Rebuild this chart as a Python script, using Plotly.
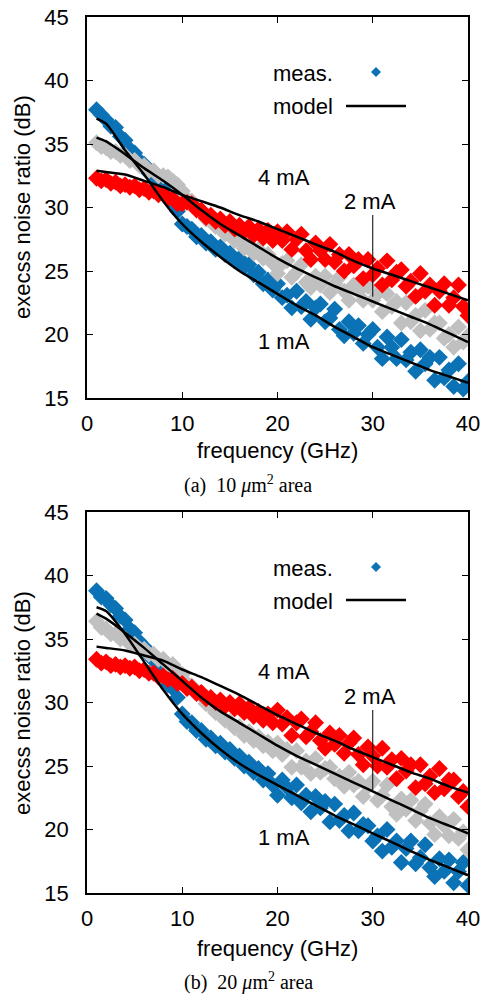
import plotly.graph_objects as go

# ---------------- data ----------------
freq = [1.0, 1.5, 2.0, 2.5, 3.0, 3.5, 4.0, 4.5, 5.0, 5.5,
        6.0, 6.5, 7.0, 7.5, 8.0, 8.5, 9.0, 9.5, 10.0, 10.5,
        11.0, 11.5, 12.0, 12.5, 13.0, 13.5, 14.0, 14.5, 15.0, 15.5,
        16.0, 16.5, 17.0, 17.5, 18.0, 18.5, 19.0, 19.5, 20.0, 20.5,
        21.0, 21.5, 22.0, 22.5, 23.0, 23.5, 24.0, 24.5, 25.0, 25.5,
        26.0, 26.5, 27.0, 27.5, 28.0, 28.5, 29.0, 29.5, 30.0, 30.5,
        31.0, 31.5, 32.0, 32.5, 33.0, 33.5, 34.0, 34.5, 35.0, 35.5,
        36.0, 36.5, 37.0, 37.5, 38.0, 38.5, 39.0, 39.5, 40.0]

# (a) 10 um^2 measured
meas_a_1mA = [37.7, 37.3, 36.9, 36.4, 36.3, 35.6, 35.3, 34.6, 34.3, 33.7,
              33.4, 32.7, 32.4, 31.8, 31.5, 30.8, 30.4, 29.7, 28.7, 28.5,
              28.3, 27.7, 27.8, 27.2, 27.3, 26.7, 26.9, 26.3, 26.4, 25.8,
              26.0, 25.3, 25.5, 24.7, 24.9, 24.0, 24.3, 23.5, 24.0, 22.9,
              23.1, 22.1, 23.4, 22.2, 22.6, 21.2, 22.1, 22.4, 21.0, 21.3,
              22.0, 20.4, 19.9, 21.0, 20.1, 20.7, 19.3, 20.0, 20.4, 19.0,
              18.1, 19.8, 19.0, 18.1, 19.6, 18.0, 18.6, 17.1, 18.8, 17.7,
              18.2, 16.4, 18.2, 16.6, 17.2, 15.9, 17.7, 15.7, 16.3]
meas_a_2mA = [35.1, 34.8, 34.7, 34.4, 34.4, 34.1, 34.1, 33.7, 33.7, 33.3,
              33.3, 32.9, 32.9, 32.5, 32.5, 32.4, 32.1, 31.8, 31.3, 30.7,
              30.5, 29.9, 29.7, 29.1, 29.0, 28.5, 28.4, 27.9, 27.9, 27.4,
              27.4, 26.8, 27.1, 26.4, 26.7, 26.0, 26.3, 25.6, 24.8, 25.6,
              25.8, 24.5, 24.9, 25.5, 24.1, 23.7, 24.6, 23.9, 24.6, 23.3,
              24.0, 24.5, 23.4, 22.7, 23.9, 23.4, 22.7, 23.8, 22.7, 23.2,
              21.8, 23.2, 22.2, 22.6, 20.9, 22.5, 21.0, 21.5, 20.3, 21.9,
              20.4, 20.9, 20.9, 19.7, 20.0, 19.0, 20.6, 19.4, 19.9]
meas_a_4mA = [32.3, 32.1, 32.2, 31.9, 32.0, 31.7, 31.8, 31.6, 31.7, 31.4,
              31.5, 31.2, 31.3, 31.0, 31.1, 30.7, 30.7, 30.3, 30.3, 30.4,
              30.3, 29.8, 29.8, 29.2, 29.4, 28.9, 29.1, 28.6, 28.9, 28.3,
              28.6, 28.1, 28.5, 27.8, 28.3, 27.6, 28.2, 27.4, 28.1, 27.4,
              28.1, 26.7, 27.5, 27.9, 26.6, 25.9, 27.2, 26.6, 25.9, 27.1,
              25.7, 26.3, 25.0, 26.3, 25.4, 25.9, 24.4, 25.9, 24.7, 25.2,
              23.9, 25.8, 24.3, 24.9, 25.1, 23.8, 24.2, 23.0, 24.8, 23.4,
              23.9, 22.3, 23.4, 24.0, 22.3, 22.9, 23.9, 22.2, 21.5]

# (b) 20 um^2 measured
meas_b_1mA = [38.8, 38.3, 38.2, 37.7, 37.4, 36.8, 36.5, 35.8, 35.5, 34.8,
              34.4, 33.7, 33.3, 32.5, 32.2, 31.4, 31.1, 30.4, 29.1, 28.5,
              28.4, 27.8, 27.8, 27.1, 27.2, 26.6, 26.8, 26.1, 26.3, 25.6,
              25.8, 25.0, 25.3, 24.5, 24.8, 23.9, 24.4, 23.5, 22.7, 23.9,
              23.3, 22.5, 23.5, 22.1, 22.7, 21.4, 22.6, 21.7, 22.2, 20.6,
              22.0, 20.7, 21.1, 19.9, 21.3, 19.9, 20.4, 20.3, 19.1, 19.5,
              18.3, 20.0, 18.6, 19.1, 17.4, 18.5, 19.1, 17.3, 17.8, 18.8,
              17.0, 16.3, 17.7, 16.7, 17.6, 15.8, 16.7, 17.4, 15.6]
meas_b_2mA = [36.4, 35.9, 35.8, 35.4, 35.4, 35.0, 35.0, 34.6, 34.6, 34.2,
              34.2, 33.8, 33.8, 33.4, 33.4, 33.0, 33.0, 32.5, 32.2, 31.5,
              31.3, 30.7, 30.5, 29.9, 29.7, 29.2, 29.0, 28.6, 28.5, 28.0,
              28.1, 27.4, 27.7, 27.0, 27.3, 26.6, 26.9, 26.2, 26.8, 25.9,
              26.3, 24.9, 26.2, 24.9, 25.4, 24.4, 25.6, 24.5, 24.8, 24.9,
              24.0, 24.2, 23.4, 24.5, 23.5, 23.8, 22.6, 23.4, 23.8, 22.3,
              22.7, 23.5, 21.8, 21.2, 22.4, 21.6, 22.3, 20.7, 21.5, 22.0,
              20.5, 19.6, 21.0, 20.3, 19.5, 20.8, 19.3, 19.8, 18.4]
meas_b_4mA = [33.4, 33.1, 33.2, 32.9, 33.0, 32.8, 32.9, 32.7, 32.8, 32.5,
              32.6, 32.3, 32.3, 32.0, 32.1, 31.8, 31.9, 31.5, 31.5, 31.1,
              31.2, 30.7, 30.8, 30.3, 30.4, 30.0, 30.2, 29.7, 30.0, 29.5,
              29.9, 29.2, 29.6, 28.9, 29.3, 28.6, 29.1, 28.4, 29.4, 28.3,
              28.8, 27.4, 28.4, 28.7, 27.3, 27.7, 28.4, 27.0, 26.4, 27.6,
              26.7, 27.4, 26.0, 26.8, 27.2, 25.9, 25.1, 26.5, 25.8, 25.0,
              26.4, 24.9, 25.5, 24.0, 25.6, 24.6, 25.1, 23.3, 25.1, 23.6,
              24.2, 22.9, 24.8, 23.2, 23.9, 23.9, 22.6, 23.0, 21.8]

# model curves
freq_model = [1, 2, 4, 6, 8, 10, 12, 14, 16, 18, 20, 22, 24, 26, 28, 30, 32, 34, 36, 38, 40]
model_a_1mA = [37.0, 36.6, 34.5, 32.6, 30.5, 28.7, 27.3, 26.1, 25.0, 24.1, 23.2,
               22.3, 21.5, 20.6, 19.8, 19.0, 18.4, 17.8, 17.2, 16.7, 16.2]
model_a_2mA = [35.5, 35.2, 34.2, 33.1, 32.1, 31.0, 29.8, 28.7, 27.8, 26.9, 26.0,
               25.2, 24.5, 23.8, 23.2, 22.6, 22.0, 21.4, 20.8, 20.1, 19.4]
model_a_4mA = [32.9, 32.8, 32.6, 32.1, 31.6, 31.0, 30.5, 30.0, 29.4, 28.9, 28.3,
               27.7, 27.1, 26.5, 25.8, 25.2, 24.7, 24.2, 23.7, 23.2, 22.7]
model_b_1mA = [37.5, 37.2, 35.4, 33.2, 31.0, 29.1, 27.6, 26.3, 25.2, 24.3, 23.5,
               22.7, 21.9, 21.1, 20.4, 19.7, 19.0, 18.3, 17.6, 17.0, 16.4]
model_b_2mA = [37.0, 36.6, 35.5, 34.3, 33.0, 31.7, 30.4, 29.3, 28.4, 27.5, 26.6,
               25.8, 25.1, 24.4, 23.7, 23.0, 22.3, 21.6, 20.9, 20.3, 19.7]
model_b_4mA = [34.4, 34.3, 34.1, 33.7, 33.3, 32.6, 32.0, 31.3, 30.6, 29.8, 29.0,
               28.3, 27.6, 27.0, 26.3, 25.7, 25.1, 24.5, 24.0, 23.4, 22.9]

x_ticks = [0, 10, 20, 30, 40]
y_ticks = [15, 20, 25, 30, 35, 40, 45]

# ---------------- style ----------------
C_1MA = "#0a72b5"
C_2MA = "#c0c0c0"
C_4MA = "#ff0000"
SANS = "Liberation Sans, Arial, Helvetica, sans-serif"
SERIF = "Liberation Serif, Times New Roman, serif"
FS = 22

W, H = 484, 997
ML, MR, MT, MB = 87, 16, 17, 104
PW = W - ML - MR
PH = H - MT - MB


def px_to_paper(px, py):
    return (px - ML) / PW, (H - MB - py) / PH


fig = go.Figure()

panels = [
    ("x", "y", [meas_a_1mA, meas_a_2mA, meas_a_4mA], [model_a_1mA, model_a_2mA, model_a_4mA]),
    ("x2", "y2", [meas_b_1mA, meas_b_2mA, meas_b_4mA], [model_b_1mA, model_b_2mA, model_b_4mA]),
]
for xa, ya, meas, models in panels:
    for vals, col in zip(meas, [C_1MA, C_2MA, C_4MA]):
        fig.add_trace(go.Scatter(
            x=freq, y=vals, mode="markers", xaxis=xa, yaxis=ya,
            marker=dict(symbol="diamond", size=13, color=col, line=dict(width=0)),
            showlegend=False, hoverinfo="skip"))
    for vals in models:
        fig.add_trace(go.Scatter(
            x=freq_model, y=vals, mode="lines", xaxis=xa, yaxis=ya,
            line=dict(color="black", width=2.5, shape="spline", smoothing=0.6),
            showlegend=False, hoverinfo="skip"))

axis_common = dict(
    showline=True, linecolor="black", linewidth=1.5, mirror="ticks",
    ticks="inside", ticklen=6, tickwidth=1, tickcolor="black",
    showgrid=False, zeroline=False, automargin=False,
    tickfont=dict(family=SANS, size=FS, color="black"),
)

top_dom = [(H - MB - 398) / PH, 1.0]
bot_dom = [0.0, (H - MB - 512) / PH]

fig.update_layout(
    width=W, height=H,
    margin=dict(l=ML, r=MR, t=MT, b=MB, autoexpand=False),
    paper_bgcolor="white", plot_bgcolor="white",
    font=dict(family=SANS, size=FS, color="black"),
    xaxis=dict(domain=[0, 1], anchor="y", range=[0, 40], tickvals=x_ticks,
               ticklabelstandoff=5, **axis_common),
    yaxis=dict(domain=top_dom, anchor="x", range=[15, 45], tickvals=y_ticks,
               ticklabelstandoff=12, **axis_common),
    xaxis2=dict(domain=[0, 1], anchor="y2", range=[0, 40], tickvals=x_ticks,
                ticklabelstandoff=5, **axis_common),
    yaxis2=dict(domain=bot_dom, anchor="x2", range=[15, 45], tickvals=y_ticks,
                ticklabelstandoff=12, **axis_common),
)

annotations = []
shapes = []
deco = [
    ("x", "y", 32.40, 30.46, 19.43, (22.98, 29.41), (73, 107), 207, 451, 484,
     "(a)  10 <i>μ</i>m<sup>2</sup> area"),
    ("x2", "y2", 32.43, 30.46, 19.40, (23.11, 29.41), (568, 601), 703, 948, 982,
     "(b)  20 <i>μ</i>m<sup>2</sup> area"),
]
for xr, yr, y4, y2, y1, (l0, l1), (leg1, leg2), ytit, xtit, cap, captext in deco:
    annotations += [
        dict(x=20.68, y=y4, xref=xr, yref=yr, text="4 mA", showarrow=False,
             font=dict(size=FS)),
        dict(x=29.71, y=y2, xref=xr, yref=yr, text="2 mA", showarrow=False,
             font=dict(size=FS)),
        dict(x=20.68, y=y1, xref=xr, yref=yr, text="1 mA", showarrow=False,
             font=dict(size=FS)),
    ]
    shapes.append(dict(type="line", xref=xr, yref=yr, x0=30, x1=30, y0=l0, y1=l1,
                       line=dict(color="black", width=1)))
    # legend
    px, py = px_to_paper(271, leg1)
    annotations.append(dict(x=px, y=py, xref="paper", yref="paper", text="meas.",
                            xanchor="left", yanchor="middle", showarrow=False,
                            font=dict(size=FS)))
    px, py = px_to_paper(271, leg2)
    annotations.append(dict(x=px, y=py, xref="paper", yref="paper", text="model",
                            xanchor="left", yanchor="middle", showarrow=False,
                            font=dict(size=FS)))
    cx, cy = px_to_paper(376, leg1 - 1)
    dx, dy = 5 / PW, 5 / PH
    shapes.append(dict(type="path", xref="paper", yref="paper",
                       path=f"M {cx - dx} {cy} L {cx} {cy + dy} L {cx + dx} {cy} L {cx} {cy - dy} Z",
                       fillcolor=C_1MA, line=dict(width=0)))
    ax0, ay = px_to_paper(346, leg2 - 1)
    ax1, _ = px_to_paper(406, leg2 - 1)
    shapes.append(dict(type="line", xref="paper", yref="paper", x0=ax0, x1=ax1,
                       y0=ay, y1=ay, line=dict(color="black", width=2.5)))
    # axis titles
    tx, ty = px_to_paper(22, ytit)
    annotations.append(dict(x=tx, y=ty, xref="paper", yref="paper",
                            text="execss noise ratio (dB)", textangle=-90,
                            xanchor="center", yanchor="middle", showarrow=False,
                            font=dict(size=FS)))
    tx, ty = px_to_paper(277, xtit)
    annotations.append(dict(x=tx, y=ty, xref="paper", yref="paper",
                            text="frequency (GHz)", xanchor="center", yanchor="middle",
                            showarrow=False, font=dict(size=FS)))
    tx, ty = px_to_paper(248, cap)
    annotations.append(dict(x=tx, y=ty, xref="paper", yref="paper",
                            text=captext, xanchor="center", yanchor="middle",
                            showarrow=False, font=dict(family=SERIF, size=20)))

fig.update_layout(annotations=annotations, shapes=shapes)
fig.write_html(
    "out.html",
    config={"displayModeBar": False},
    post_script="document.body.style.margin='0';document.body.style.overflow='hidden';",
)
